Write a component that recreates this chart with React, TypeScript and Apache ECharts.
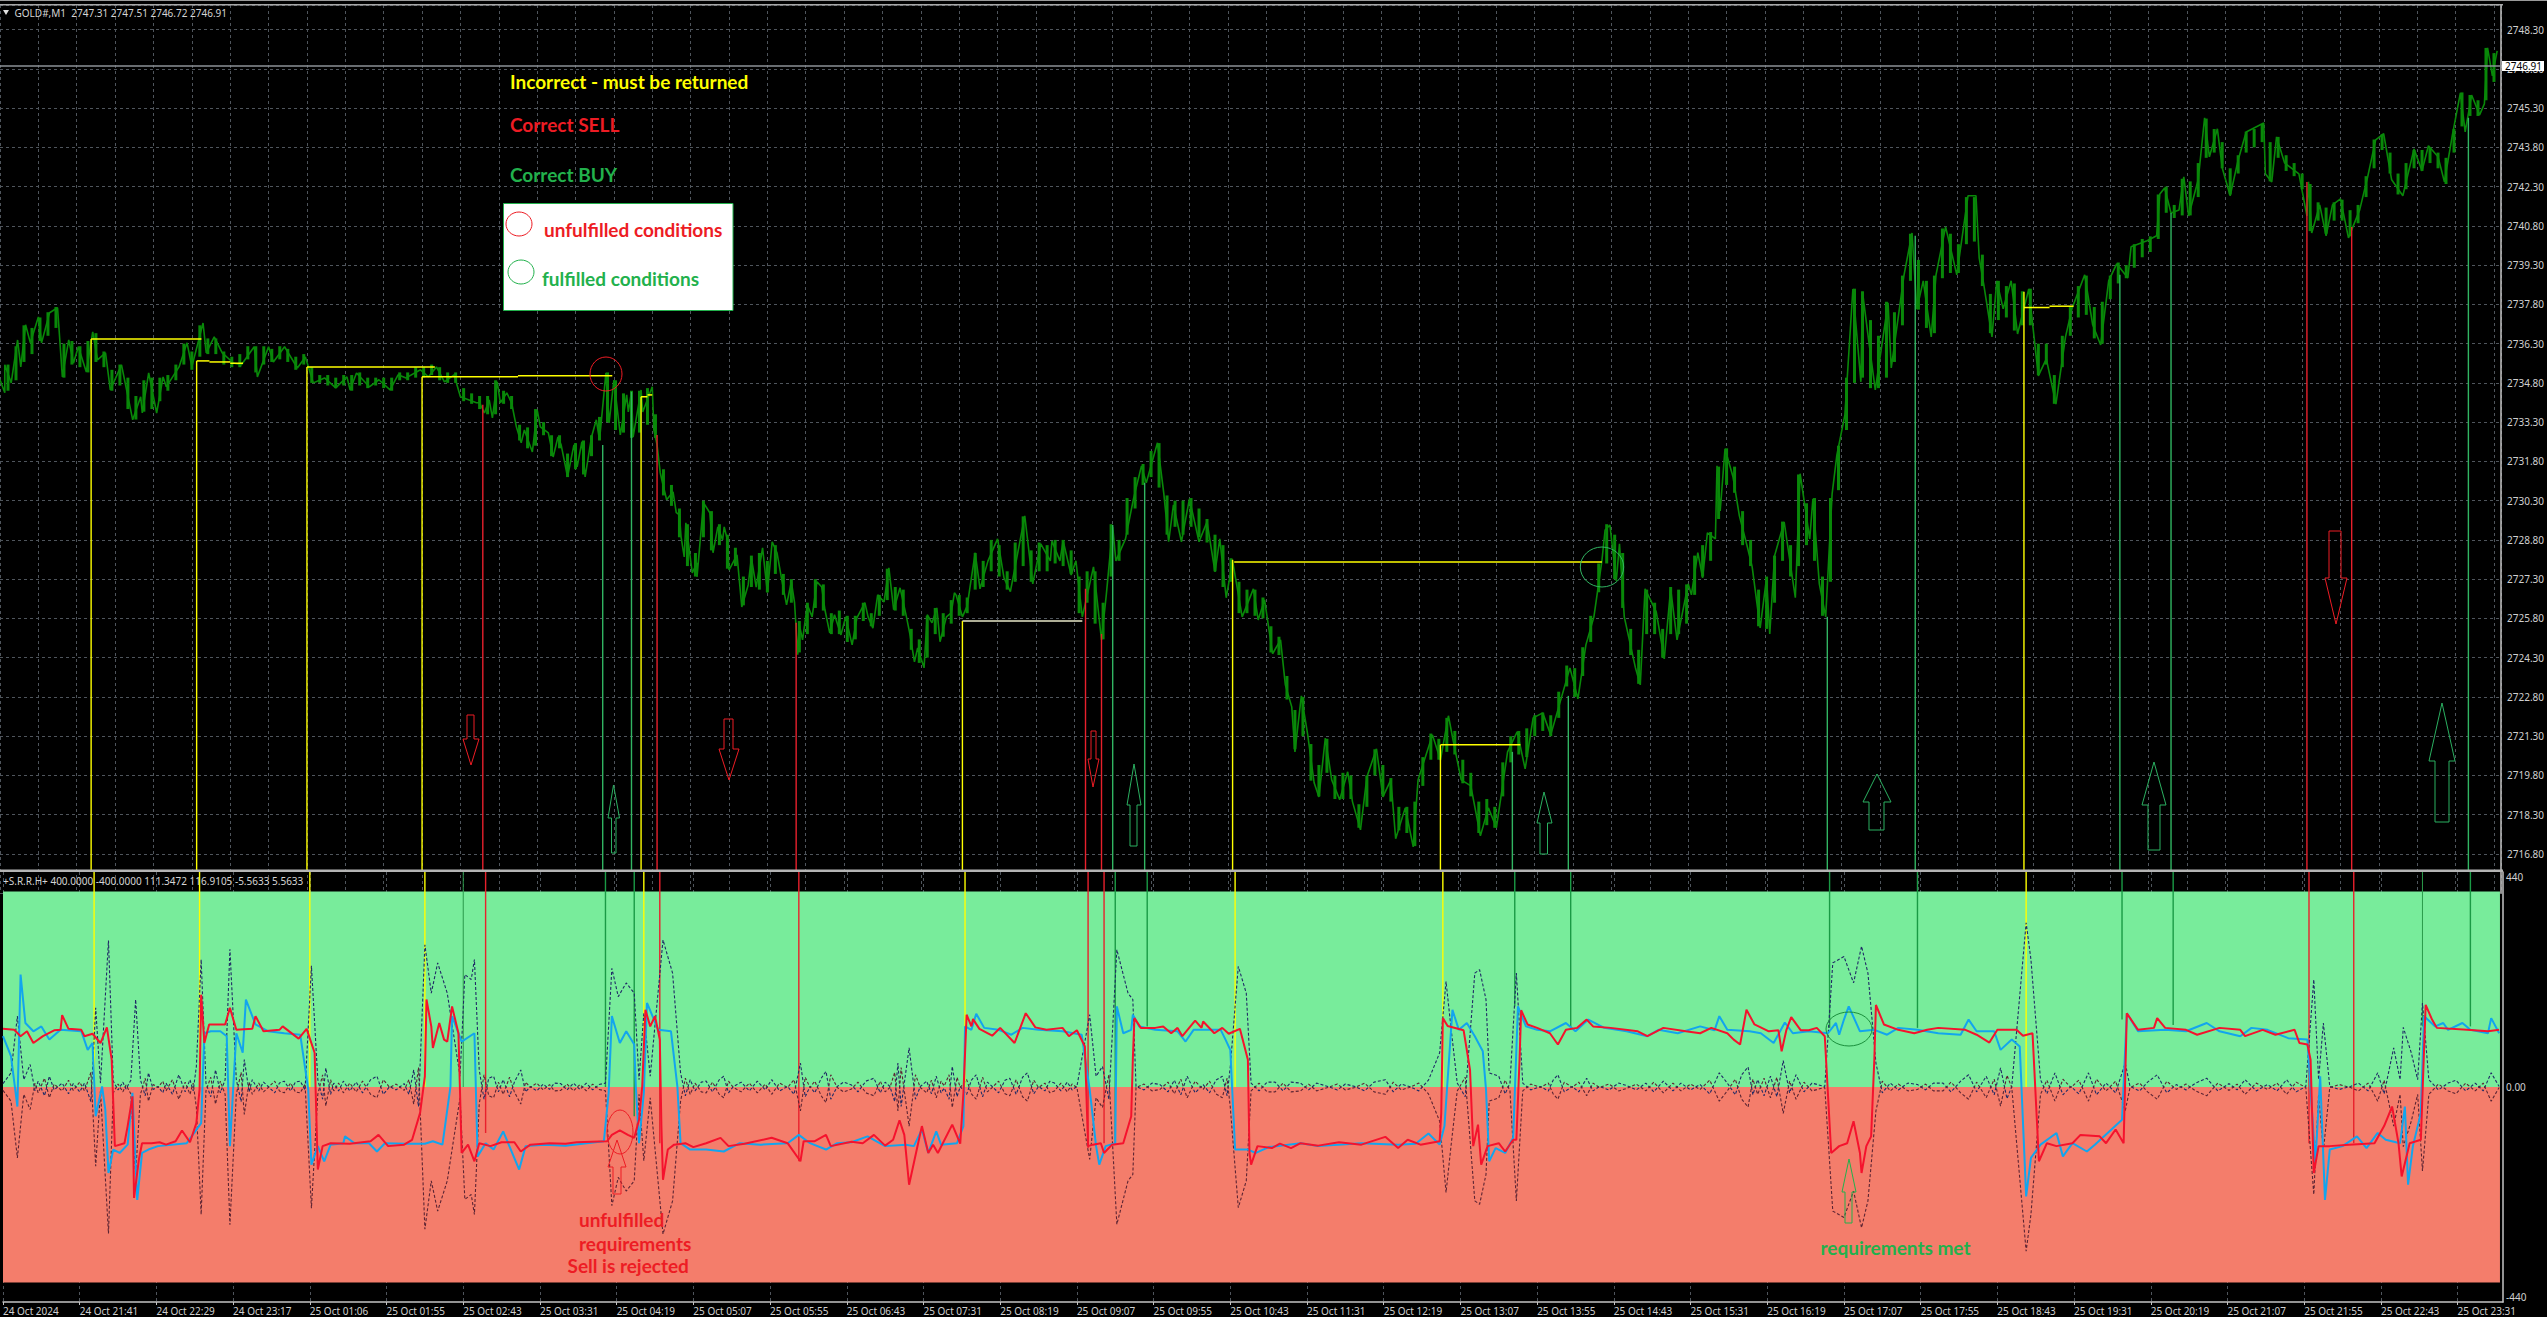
import React, { useEffect, useRef } from "react";
import * as echarts from "echarts";

const W = 2547;
const H = 1317;

const xTickLabels = ["24 Oct 2024","24 Oct 21:41","24 Oct 22:29","24 Oct 23:17","25 Oct 01:06","25 Oct 01:55","25 Oct 02:43","25 Oct 03:31","25 Oct 04:19","25 Oct 05:07","25 Oct 05:55","25 Oct 06:43","25 Oct 07:31","25 Oct 08:19","25 Oct 09:07","25 Oct 09:55","25 Oct 10:43","25 Oct 11:31","25 Oct 12:19","25 Oct 13:07","25 Oct 13:55","25 Oct 14:43","25 Oct 15:31","25 Oct 16:19","25 Oct 17:07","25 Oct 17:55","25 Oct 18:43","25 Oct 19:31","25 Oct 20:19","25 Oct 21:07","25 Oct 21:55","25 Oct 22:43","25 Oct 23:31"];

const lastPrice = 2746.91;

// GOLD#,M1 trace: [minute bar, price]
const goldA = [[0,2734.92],[3,2734.42],[3,2735.49],[7,2734.8],[11,2736.44],[13,2735.41],[16,2737.02],[19,2736.33],[24,2737.32],[26,2736.33],[31,2737.48],[36,2737.67],[39,2735.03],[43,2736.44],[46,2735.56],[49,2736.18],[54,2735.22],[58,2736.75],[61,2735.68],[66,2735.95],[69,2734.53],[76,2735.49],[83,2733.39],[88,2734.27],[89,2733.65],[93,2735.18],[98,2733.65],[102,2735.03],[104,2734.65],[112,2735.41],[117,2736.33],[120,2735.41],[127,2737.09],[129,2735.95],[134,2736.56],[139,2735.95],[146,2735.56],[151,2735.49],[159,2736.18],[161,2735.03],[168,2736.18],[171,2735.6],[178,2736.18],[186,2735.37],[191,2735.79],[196,2734.8],[203,2734.99],[210,2734.61],[217,2735.03],[219,2734.53],[223,2735.18],[231,2734.65],[237,2734.92],[244,2734.53],[249,2735.11],[254,2734.99],[263,2735.3],[268,2735.03],[273,2735.41],[278,2734.84],[284,2735.11],[288,2734.27],[298,2734.04],[300,2734.04],[303,2733.65],[306,2734.15],[308,2733.46],[311,2734.84],[313,2734.04],[317,2734.42],[320,2734.04],[323,2733.12],[326,2732.51],[328,2733],[333,2732.16],[336,2733.77],[338,2733.12],[343,2732.89],[346,2731.97],[349,2732.73],[351,2732.43],[355,2731.21],[359,2732.43],[361,2731.59],[364,2732.55],[366,2731.21],[370,2732.73],[373,2733.39],[375,2732.62],[378,2734.53],[379,2735.18],[381,2733.27],[384,2734.91],[388,2732.81],[392,2734.34],[393,2733.69],[395,2734.46],[396,2732.73],[401,2734.53],[402,2733.69],[408,2734.65],[409,2733],[411,2732.43],[413,2731.36],[414,2731.09],[417,2730.33],[421,2730.64],[423,2729.84],[425,2729.76],[426,2728.92],[428,2728.15],[429,2729.45],[433,2727.54],[436,2727.92],[436,2727.39],[439,2729.49],[440,2730.22],[444,2729.84],[446,2728.31],[449,2729.3],[452,2728.8],[453,2729.3],[455,2728.8],[456,2727.65],[461,2728.23],[464,2726.24],[468,2727.08],[470,2728.11],[473,2727],[477,2728.5],[480,2726.78],[483,2728.73],[486,2728.31],[489,2727.27],[492,2726.32],[495,2727.2],[497,2726.4],[499,2724.41],[500,2725.55],[502,2724.98],[505,2726.32],[508,2725.86],[511,2727.2],[514,2727],[516,2726.13],[519,2725.25],[522,2725.94],[526,2725.17],[529,2725.86],[533,2724.79]];
const goldB = [[536,2725.82],[541,2726.4],[543,2725.86],[546,2725.43],[549,2726.7],[553,2726.43],[556,2727.73],[559,2726.13],[563,2726.97],[567,2725.86],[569,2725.25],[572,2724.14],[574,2724.67],[578,2723.91],[580,2725.94],[583,2725.63],[586,2726.2],[588,2724.91],[592,2725.86],[595,2726.01],[597,2726.78],[598,2726.7],[602,2725.86],[605,2726.28],[610,2728.31],[613,2726.93],[618,2728],[624,2728.84],[628,2727.35],[632,2726.82],[641,2729.72],[646,2727.12],[651,2728.65],[657,2728],[658,2728.76],[663,2728],[665,2728.76],[670,2727.46],[673,2728],[677,2725.86],[684,2727.77],[689,2724.98],[692,2726.7],[696,2729.3],[698,2728],[704,2728.84],[709,2730.37],[714,2731.63],[717,2730.98],[724,2732.51],[728,2730.56],[731,2728.73],[734,2730.14],[739,2728.73],[744,2730.37],[750,2728.73],[755,2729.49],[760,2727.58],[763,2728.84],[767,2726.59],[771,2728],[777,2725.86],[784,2726.93],[787,2725.74],[791,2726.51],[796,2724.45],[801,2724.98],[804,2723.26],[808,2722.42],[810,2720.7],[814,2722.84],[818,2721.35],[822,2719.52],[825,2718.98],[829,2721.23],[833,2719.63],[838,2718.87],[843,2719.94],[846,2718.79],[851,2717.72],[855,2719.74],[861,2720.82],[865,2718.98],[870,2719.63],[873,2717.38],[879,2718.56],[884,2717.07],[887,2719.63],[896,2721.35],[901,2720.39],[906,2722.08],[909,2721.12],[914,2719.63],[920,2719.4],[926,2717.49],[931,2718.56],[936,2717.8],[943,2720.7],[949,2721.47],[954,2720.05],[959,2722],[965,2722.19],[970,2721.35],[982,2723.91],[987,2722.73],[992,2724.79],[997,2725.86],[1002,2728],[1004,2729.18],[1007,2729.37],[1011,2727.23],[1013,2728.65],[1016,2725.86],[1023,2723.91],[1026,2723.26],[1029,2726.93],[1036,2726.05],[1041,2724.25],[1045,2726.93],[1049,2724.98],[1056,2727.12],[1058,2726.7],[1062,2728.31]];
const goldC = [[1063,2728],[1065,2727.35],[1068,2729.07],[1073,2728.84],[1074,2731.63],[1076,2729.91],[1079,2732.28],[1084,2731.21],[1088,2729.72],[1093,2728.53],[1096,2727.77],[1101,2725.44],[1105,2727.35],[1107,2725.21],[1110,2728.19],[1116,2729.49],[1123,2726.59],[1126,2731.33],[1132,2728.84],[1134,2730.37],[1138,2727.12],[1142,2725.86],[1146,2730.56],[1149,2732.05],[1154,2733.58],[1159,2738.39],[1164,2734.84],[1165,2738.28],[1169,2736.37],[1173,2734.53],[1181,2737.86],[1183,2735.37],[1191,2738.93],[1196,2740.53],[1199,2737.62],[1203,2738.7],[1208,2736.56],[1211,2738.93],[1217,2740.76],[1224,2738.93],[1231,2741.95],[1236,2741.95],[1238,2739.58],[1241,2738.51],[1246,2736.56],[1249,2738.7],[1253,2737.63],[1258,2738.7],[1262,2736.67],[1269,2738.39],[1275,2735.07],[1280,2735.72],[1286,2733.99],[1292,2736.56],[1296,2737.63],[1304,2738.93],[1309,2737.02],[1314,2736.25],[1319,2738.7],[1324,2739.35],[1331,2738.81],[1333,2740],[1343,2740.23],[1349,2740.42],[1351,2742.02],[1354,2742.25],[1358,2741.29],[1363,2741.41],[1366,2742.67],[1369,2741.18],[1375,2742.56],[1379,2744.93],[1382,2743.44],[1387,2744.51],[1390,2743.02],[1395,2741.95],[1400,2743.32],[1405,2744.39],[1416,2744.73],[1417,2742.79],[1421,2742.48],[1424,2744.2],[1429,2743.21],[1438,2742.79],[1443,2741.18],[1444,2742.48],[1446,2740.53],[1451,2741.6],[1455,2740.42],[1459,2741.6],[1464,2741.83],[1469,2740.34],[1476,2741.41],[1481,2742.67],[1486,2744.09],[1491,2744.32],[1496,2742.56],[1503,2741.95],[1510,2743.74],[1515,2742.9],[1519,2743.86],[1525,2743.44],[1529,2742.48],[1534,2744.28],[1539,2745.88],[1542,2744.39],[1546,2745.8],[1551,2745.04],[1554,2745.46],[1556,2747.6],[1559,2746.53],[1562,2747.49]];

// bar ranges: [bar, low, high]
const goldRanges = [[5,2734.5,2735.5],[10,2734.9,2736.2],[15,2735.6,2737],[20,2735.9,2736.9],[25,2736.4,2737.3],[30,2736.6,2737.5],[35,2736.9,2737.7],[40,2735,2736.3],[45,2735.5,2736.4],[50,2735.4,2736.2],[55,2735.2,2736.4],[60,2735.6,2736.7],[65,2735.4,2736],[70,2734.5,2735.3],[75,2734.7,2735.5],[80,2733.8,2735],[85,2733.4,2734.3],[90,2733.7,2734.9],[95,2733.8,2735],[100,2734.1,2735],[105,2734.5,2735.1],[110,2734.9,2735.5],[115,2735.5,2736.3],[120,2735.3,2736],[125,2735.8,2737],[130,2735.9,2736.5],[135,2735.9,2736.5],[140,2735.5,2736],[145,2735.4,2735.8],[150,2735.4,2735.9],[155,2735.7,2736.2],[160,2735.2,2736.2],[165,2735.5,2736.2],[170,2735.6,2736.1],[175,2735.7,2736.2],[180,2735.6,2736.1],[185,2735.3,2735.8],[190,2735.5,2735.9],[195,2734.8,2735.4],[200,2734.8,2735.1],[205,2734.7,2735.1],[210,2734.6,2735],[215,2734.7,2735.1],[220,2734.5,2735.1],[225,2734.7,2735.2],[230,2734.6,2735],[235,2734.7,2735],[240,2734.6,2735],[245,2734.5,2735],[250,2734.9,2735.2],[255,2734.9,2735.2],[260,2735,2735.4],[265,2735,2735.4],[270,2735.1,2735.5],[275,2734.9,2735.4],[280,2734.8,2735.2],[285,2734.8,2735.2],[290,2734.1,2734.6],[295,2734,2734.4],[300,2733.8,2734.3],[305,2733.6,2734.3],[310,2733.6,2734.9],[315,2734,2734.5],[320,2733.8,2734.3],[325,2732.6,2733.2],[330,2732.3,2733.1],[335,2732.4,2733.8],[340,2732.8,2733.3],[345,2732,2732.8],[350,2732.3,2732.8],[355,2731.2,2732.1],[360,2731.5,2732.5],[365,2731.3,2732.6],[370,2732,2732.8],[375,2732.6,2733.5],[380,2733.3,2735.2],[385,2733,2734.9],[390,2732.9,2734.4],[395,2732.7,2734.5],[400,2732.9,2734.5],[405,2733.2,2734.6],[410,2732.7,2733.6],[415,2730.5,2731.5],[420,2730.1,2730.9],[425,2728.9,2730],[430,2727.8,2729.4],[435,2727.4,2728.3],[440,2728.9,2730.3],[445,2728.4,2729.9],[450,2728.6,2729.4],[455,2727.7,2729],[460,2727.8,2728.5],[465,2726.3,2727.4],[470,2727,2728.2],[475,2726.9,2728.3],[480,2726.8,2728],[485,2727.5,2728.6],[490,2726.7,2727.5],[495,2726.4,2727.3],[500,2724.5,2725.7],[505,2725.2,2726.4],[510,2726.2,2727.3],[515,2726.1,2727.1],[520,2725.2,2726],[525,2725.2,2726.1],[530,2724.9,2725.9],[535,2725,2725.9],[540,2725.7,2726.4],[545,2725.5,2726],[550,2725.9,2726.7],[555,2726.5,2727.7],[560,2726.1,2727],[565,2725.9,2726.9],[570,2724.6,2725.4],[575,2724.1,2725],[580,2724.3,2725.9],[585,2725.2,2726.2],[590,2725.1,2726],[595,2725.6,2726.5],[600,2725.9,2726.7],[605,2726,2726.6],[610,2726.9,2728.3],[615,2727,2728],[620,2727.6,2728.8],[625,2727.4,2728.6],[630,2726.9,2727.6],[635,2727.2,2728.7],[640,2727.8,2729.7],[645,2727.2,2728.4],[650,2727.6,2728.7],[655,2727.6,2728.6],[660,2727.9,2728.8],[665,2727.8,2728.8],[670,2727.5,2728.4],[675,2726,2727.4],[680,2726.4,2727.6],[685,2725.6,2727.6],[690,2725,2726.4],[695,2727.4,2729.4],[700,2728,2728.8],[705,2729,2730.4],[710,2730,2731.2],[715,2730.9,2731.7],[720,2731.2,2732.2],[725,2730.8,2732.5],[730,2729,2730.5],[735,2729.3,2730.3],[740,2729,2730.3],[745,2729.3,2730.4],[750,2728.9,2730],[755,2728.7,2729.6],[760,2727.6,2729],[765,2727,2728.6],[770,2727.2,2728.1],[775,2726,2727.2],[780,2726,2726.9],[785,2725.9,2726.9],[790,2725.8,2726.6],[795,2724.5,2725.5],[800,2724.4,2725.1],[805,2722.7,2723.6],[810,2720.8,2722.3],[815,2721.3,2722.8],[820,2719.6,2721],[825,2719,2720.2],[830,2719.9,2721.2],[835,2718.9,2719.8],[840,2718.9,2719.9],[845,2718.9,2719.8],[850,2717.8,2718.7],[855,2718.6,2719.8],[860,2719.8,2720.8],[865,2719,2720.2],[870,2718.8,2719.7],[875,2717.7,2718.6],[880,2717.6,2718.6],[885,2717.1,2718.8],[890,2719.4,2720.5],[895,2720.4,2721.4],[900,2720.4,2721.2],[905,2720.7,2722],[910,2720.6,2721.5],[915,2719.5,2720.4],[920,2719,2719.9],[925,2717.6,2718.8],[930,2717.9,2718.9],[935,2717.8,2718.6],[940,2719,2720.3],[945,2720.3,2721.3],[950,2720.6,2721.5],[955,2720.5,2721.6],[960,2721.3,2722.1],[965,2721.5,2722.2],[970,2721.3,2722.1],[975,2722,2723],[980,2723.2,2724],[985,2722.8,2723.9],[990,2723.6,2724.7],[995,2724.9,2725.9],[1000,2726.8,2727.9],[1005,2727.9,2729.4],[1010,2727.3,2729],[1015,2726.2,2728.3],[1020,2724.4,2725.4],[1025,2723.3,2724.6],[1030,2725.2,2726.9],[1035,2725.2,2726.4],[1040,2724.3,2725.4],[1045,2725.2,2727],[1050,2725.2,2726.9],[1055,2725.6,2727.1],[1060,2726.7,2728.2],[1065,2727.4,2728.6],[1070,2728,2729.1],[1075,2729.6,2731.6],[1080,2730.9,2732.3],[1085,2730.6,2731.6],[1090,2728.6,2729.9],[1095,2727.8,2728.8],[1100,2725.5,2726.9],[1105,2725.4,2727.4],[1110,2726.4,2728.2],[1115,2728,2729.5],[1120,2727.4,2728.6],[1125,2727.8,2731.3],[1130,2728.6,2730.2],[1135,2728,2730.4],[1140,2725.9,2727.4],[1145,2727.2,2730.4],[1150,2730.7,2732.4],[1155,2733,2735],[1160,2734.8,2738.4],[1165,2735,2738.3],[1170,2734.6,2737.2],[1175,2734.6,2736.6],[1180,2735,2737.9],[1185,2735.6,2737.5],[1190,2737,2738.9],[1195,2738.7,2740.5],[1200,2737.6,2739.5],[1205,2736.9,2738.7],[1210,2736.7,2738.9],[1215,2738.8,2740.7],[1220,2739,2740.5],[1225,2739,2740.1],[1230,2740.1,2741.9],[1235,2740.2,2741.9],[1240,2738.5,2739.7],[1245,2736.7,2738.2],[1250,2737.2,2738.7],[1255,2737.3,2738.5],[1260,2736.8,2738.6],[1265,2737,2738.3],[1270,2737,2738.4],[1275,2735.1,2736.3],[1280,2735.5,2736.3],[1285,2734,2735.1],[1290,2735.4,2736.6],[1295,2736.6,2737.7],[1300,2737.3,2738.5],[1305,2737.4,2738.9],[1310,2736.5,2737.7],[1315,2736.3,2737.9],[1320,2738,2738.9],[1325,2738.6,2739.4],[1330,2738.8,2739.3],[1335,2739.2,2740.1],[1340,2739.6,2740.3],[1345,2739.8,2740.4],[1350,2740.3,2742],[1355,2741.3,2742.3],[1360,2741.1,2741.6],[1365,2741.2,2742.6],[1370,2741.2,2742.5],[1375,2741.9,2743.2],[1380,2743.4,2744.9],[1385,2743.6,2744.5],[1390,2743,2744],[1395,2742,2743],[1400,2742.8,2743.5],[1405,2743.6,2744.4],[1410,2743.8,2744.5],[1415,2744,2744.7],[1420,2742.5,2744],[1425,2743.4,2744.2],[1430,2742.9,2743.5],[1435,2742.7,2743.2],[1440,2742.2,2742.8],[1445,2740.6,2742.4],[1450,2741,2741.7],[1455,2740.5,2741.5],[1460,2741,2741.7],[1465,2741,2741.8],[1470,2740.4,2741.4],[1475,2740.9,2741.6],[1480,2741.9,2742.7],[1485,2743,2744.1],[1490,2743.7,2744.3],[1495,2742.8,2743.6],[1500,2742,2742.8],[1505,2742.2,2743.2],[1510,2743,2743.7],[1515,2742.9,2743.7],[1520,2743.2,2743.8],[1525,2743,2743.6],[1530,2742.4,2743.4],[1535,2743.6,2744.5],[1540,2744.6,2745.9],[1545,2745,2745.8],[1550,2745,2745.6],[1555,2745.6,2747.6],[1560,2746.3,2747.4]];

// +S.R.R.H+ red line: [bar, value]
const srrhRed = [[0,119],[7,117],[11,104],[15,114],[19,90],[25,104],[32,116],[36,117],[37,147],[41,119],[49,117],[51,104],[56,109],[61,90],[65,122],[68,56],[70,-121],[76,-115],[78,-80],[81,-19],[82,-227],[85,-149],[87,-115],[93,-115],[98,-113],[102,-118],[108,-111],[112,-89],[117,-113],[121,-74],[123,-5],[124,189],[126,90],[129,128],[139,128],[142,162],[146,117],[156,119],[158,145],[163,114],[173,117],[175,124],[185,99],[190,119],[195,70],[197,-169],[200,-121],[205,-115],[217,-116],[230,-111],[235,-98],[241,-121],[251,-118],[256,-108],[261,-53],[264,22],[265,179],[268,124],[269,80],[273,131],[276,97],[278,93],[281,165],[285,110],[287,-135],[291,-118],[295,-152],[298,-115],[305,-121],[312,-113],[320,-113],[324,-132],[330,-118],[342,-115],[352,-116],[359,-113],[378,-111],[381,-98],[386,-89],[391,-98],[395,-104],[398,-67],[400,1],[402,158],[405,124],[408,145],[411,97],[412,-80],[413,-190],[416,-128],[420,-118],[427,-115],[432,-123],[440,-115],[449,-104],[454,-121],[464,-116],[481,-104],[491,-115],[499,-152],[501,-111],[508,-111],[515,-98],[518,-121],[531,-112],[538,-115],[545,-98],[552,-120],[557,-108],[561,-68],[564,-98],[567,-200],[570,-155],[575,-80],[579,-135],[582,-118],[585,-135],[594,-77],[599,-116],[601,-12],[603,148],[606,124],[607,139],[611,119],[619,105],[624,121],[633,90],[640,151],[646,122],[653,117],[663,121],[667,104],[672,116],[677,83],[679,-121],[682,-118],[687,-115],[689,-135],[694,-118],[701,-115],[706,-60],[707,56],[708,141],[712,121],[721,121],[726,124],[731,110],[735,121],[738,104],[746,136],[750,121],[751,134],[758,110],[763,121],[767,109],[774,119],[779,56],[780,-135],[781,-159],[785,-121],[794,-125],[799,-116],[806,-125],[812,-115],[823,-120],[836,-113],[850,-118],[865,-102],[873,-125],[879,-108],[887,-118],[899,-111],[900,-53],[901,141],[904,125],[914,116],[918,35],[920,-121],[923,-77],[925,-159],[929,-121],[936,-115],[940,-132],[945,-108],[947,-108],[949,56],[950,157],[954,128],[960,121],[968,110],[973,87],[978,117],[985,121],[991,138],[995,124],[1006,121],[1023,114],[1029,104],[1039,121],[1053,114],[1062,110],[1069,121],[1079,110],[1083,97],[1087,87],[1091,158],[1096,128],[1105,114],[1111,116],[1113,73],[1116,117],[1119,143],[1125,116],[1130,116],[1135,121],[1140,104],[1144,-135],[1149,-121],[1154,-115],[1158,-70],[1162,-135],[1163,-176],[1166,-121],[1169,-101],[1171,56],[1172,168],[1177,128],[1186,117],[1196,110],[1204,117],[1211,121],[1228,117],[1235,107],[1243,91],[1248,117],[1260,117],[1264,105],[1270,110],[1274,-152],[1279,-115],[1285,-121],[1295,-115],[1300,-98],[1312,-101],[1316,-115],[1322,-87],[1327,-115],[1329,151],[1336,117],[1346,121],[1348,141],[1353,121],[1366,117],[1373,107],[1387,121],[1400,117],[1403,104],[1414,117],[1422,107],[1434,117],[1437,90],[1442,87],[1444,56],[1446,-176],[1449,-121],[1456,-121],[1468,-118],[1484,-115],[1490,-80],[1495,-40],[1499,-115],[1501,-183],[1506,-115],[1513,-108],[1516,168],[1520,138],[1523,121],[1542,117],[1555,114],[1562,117]];

// +S.R.R.H+ blue line: [bar, value]
const srrhBlue = [[0,104],[5,63],[9,-40],[11,230],[14,131],[19,114],[24,124],[29,97],[36,117],[49,114],[53,76],[56,90],[58,-60],[62,1],[64,-46],[66,-176],[69,-128],[73,-135],[78,-118],[81,-12],[84,-231],[87,-135],[91,-128],[97,-121],[115,-115],[124,-74],[126,110],[130,114],[136,114],[140,104],[142,-121],[146,110],[150,70],[152,179],[158,128],[166,114],[176,110],[186,107],[191,-5],[193,-159],[197,-121],[201,-152],[205,-118],[213,-115],[214,-101],[220,-115],[229,-115],[234,-132],[239,-115],[252,-116],[264,-116],[269,-111],[275,-118],[280,1],[281,145],[287,93],[295,110],[297,-142],[302,-115],[307,-128],[313,-91],[323,-169],[327,-121],[339,-118],[352,-120],[376,-111],[379,-12],[381,145],[386,90],[390,114],[395,87],[396,1],[398,-115],[401,-12],[403,172],[410,117],[418,114],[422,1],[424,-115],[430,-128],[440,-128],[451,-132],[461,-115],[474,-118],[491,-115],[498,-98],[505,-115],[515,-128],[522,-115],[531,-113],[541,-101],[552,-121],[565,-118],[570,-121],[575,-87],[579,-135],[584,-91],[587,-118],[597,-115],[601,-80],[602,124],[606,117],[609,150],[614,121],[623,117],[631,107],[638,121],[648,117],[663,114],[675,107],[680,-5],[684,-121],[686,-159],[690,-121],[696,-115],[697,165],[701,110],[706,117],[707,148],[711,124],[721,117],[735,114],[740,93],[745,117],[762,117],[765,97],[768,76],[771,-128],[779,-128],[784,-135],[792,-123],[812,-115],[823,-121],[850,-115],[873,-118],[884,-116],[892,-95],[899,-118],[902,-80],[907,158],[911,117],[916,131],[921,104],[926,73],[928,-5],[930,-152],[934,-125],[940,-135],[945,-104],[948,165],[953,124],[960,117],[968,114],[978,131],[984,114],[992,138],[1002,121],[1016,114],[1029,104],[1036,117],[1048,110],[1062,124],[1071,116],[1074,145],[1079,117],[1093,114],[1100,110],[1108,90],[1115,132],[1120,110],[1130,114],[1142,110],[1147,131],[1149,107],[1152,138],[1155,165],[1162,114],[1171,117],[1179,107],[1186,121],[1198,117],[1211,110],[1225,107],[1230,138],[1235,114],[1246,114],[1250,76],[1257,97],[1262,83],[1266,-224],[1269,-145],[1275,-118],[1285,-94],[1289,-142],[1295,-115],[1304,-132],[1309,-118],[1326,-67],[1329,151],[1336,114],[1353,117],[1366,114],[1379,131],[1387,114],[1400,104],[1407,121],[1417,117],[1430,100],[1442,97],[1444,-5],[1447,-155],[1450,22],[1453,-231],[1456,-128],[1464,-121],[1473,-101],[1479,-125],[1486,-94],[1491,-108],[1500,-115],[1503,-40],[1505,-200],[1508,-121],[1513,-53],[1515,145],[1522,124],[1527,131],[1530,117],[1539,131],[1544,117],[1555,110],[1557,141],[1562,110]];

// dashed spread line (the title shows +5.5633 and -5.5633: its twin is its mirror image)
const srrhSpread = [[0,7],[5,29],[9,145],[13,15],[17,46],[20,-8],[22,12],[26,-18],[29,22],[32,-6],[37,8],[41,-14],[44,7],[48,-10],[51,8],[55,-30],[58,162],[61,8],[66,300],[69,12],[72,-6],[75,10],[77,-4],[80,14],[83,179],[86,15],[89,-18],[91,29],[94,-5],[97,1],[100,-12],[102,8],[106,-15],[110,25],[114,-10],[117,15],[119,-8],[121,42],[124,261],[127,8],[130,-20],[133,35],[136,-12],[139,15],[142,282],[146,15],[149,-30],[151,56],[154,-10],[156,15],[160,-8],[163,10],[166,1],[170,-12],[173,8],[176,12],[180,-8],[183,10],[186,12],[189,-6],[193,248],[197,15],[200,-25],[202,39],[205,-15],[207,8],[210,-8],[213,12],[217,-8],[221,10],[225,-12],[230,15],[234,22],[238,-15],[242,1],[246,-6],[251,7],[254,-15],[257,35],[260,-40],[264,291],[268,192],[272,254],[278,192],[286,22],[289,230],[293,220],[295,261],[298,35],[301,-25],[304,18],[307,22],[310,-10],[313,15],[317,-20],[320,10],[324,35],[327,-10],[330,1],[334,-8],[338,6],[342,-5],[345,8],[349,7],[353,-6],[357,8],[361,-5],[365,8],[369,-6],[373,5],[377,8],[381,243],[385,185],[390,213],[395,192],[398,15],[401,151],[405,22],[413,301],[419,233],[424,29],[427,-18],[430,15],[433,-8],[437,10],[440,12],[444,-10],[448,14],[451,22],[454,-12],[457,1],[462,10],[467,-8],[472,12],[477,-6],[481,15],[486,-8],[491,1],[495,-15],[499,49],[502,-20],[505,1],[508,-12],[512,18],[515,32],[518,-25],[522,1],[526,10],[531,4],[535,-10],[540,12],[545,18],[549,-12],[552,10],[555,1],[558,-30],[560,49],[562,-40],[564,8],[567,80],[571,-25],[574,1],[578,12],[581,-14],[584,22],[587,-12],[589,-2],[592,-25],[594,42],[597,-20],[599,1],[603,-15],[606,14],[609,25],[613,-20],[616,10],[619,1],[623,-12],[627,14],[630,18],[634,-15],[638,20],[641,29],[645,-14],[648,1],[652,-8],[655,12],[658,8],[662,-8],[666,10],[669,-6],[672,1],[680,148],[684,22],[688,42],[692,-25],[697,281],[704,192],[707,179],[709,1],[714,-6],[719,8],[724,5],[729,-10],[733,14],[737,-16],[741,22],[746,-12],[751,5],[755,-12],[759,14],[763,22],[766,-18],[768,42],[773,247],[778,192],[781,8],[786,-8],[791,10],[796,10],[801,-8],[806,10],[812,8],[817,-6],[822,8],[829,1],[835,-6],[840,6],[846,1],[852,-8],[858,10],[865,15],[870,-10],[875,6],[880,1],[886,-8],[892,14],[899,70],[903,216],[906,124],[910,8],[915,-20],[921,233],[924,240],[928,179],[930,29],[936,22],[940,-14],[943,8],[947,233],[951,8],[956,-6],[962,1],[967,-8],[970,14],[973,25],[977,-10],[982,1],[986,-10],[991,18],[995,-8],[999,1],[1005,-6],[1011,8],[1016,3],[1022,-6],[1028,8],[1033,-10],[1039,12],[1045,-8],[1050,8],[1056,-6],[1062,5],[1068,-14],[1074,29],[1079,8],[1084,-16],[1088,25],[1092,41],[1095,-16],[1098,15],[1102,-18],[1106,22],[1110,-20],[1114,54],[1118,-12],[1122,25],[1127,-10],[1132,8],[1140,1],[1145,254],[1152,267],[1158,213],[1163,288],[1167,233],[1172,49],[1176,-12],[1181,8],[1186,-6],[1192,8],[1198,5],[1203,-6],[1208,8],[1214,8],[1219,-10],[1225,12],[1230,25],[1235,-10],[1241,22],[1246,-16],[1250,39],[1254,-24],[1257,1],[1266,336],[1269,261],[1275,15],[1279,-14],[1284,29],[1289,-16],[1294,1],[1299,-14],[1305,29],[1310,-16],[1316,8],[1322,-12],[1328,49],[1331,1],[1337,-8],[1342,10],[1348,25],[1354,-12],[1360,5],[1366,-6],[1372,8],[1379,18],[1386,-8],[1393,7],[1398,-6],[1403,15],[1410,-8],[1417,5],[1423,-8],[1429,15],[1435,-10],[1441,1],[1446,220],[1449,15],[1452,131],[1456,1],[1462,-5],[1469,1],[1474,8],[1480,-8],[1486,29],[1490,-14],[1496,80],[1500,15],[1502,122],[1507,70],[1511,15],[1514,172],[1518,15],[1524,-6],[1530,8],[1535,14],[1541,-8],[1547,8],[1552,-8],[1557,29],[1562,1]];

// trade levels: [start bar, end bar, price]
const tradeLevels = [[57,126,2736.48],[123,131,2735.64],[131,144,2735.6],[144,152,2735.55],[192,272,2735.41],[264,324,2735.03],[324,383,2735.07],[401,405,2734.27],[405,408,2734.34],[772,1002,2727.96],[901,951,2720.97],[1266,1282,2737.68],[1282,1297,2737.73]];
const whiteLevels = [[602,677,2725.7]];

// vertical signals: [bar, price at top, indicator value at the end, kind]
const YELLOW = 0, GREEN = 1, RED = 2;
const signals = [
  [57,2736.48,0,YELLOW],[123,2735.64,0,YELLOW],[192,2735.41,0,YELLOW],[264,2735.03,0,YELLOW],[401,2734.27,0,YELLOW],[602,2725.7,0,YELLOW],[771,2728.04,0,YELLOW],[901,2720.97,0,YELLOW],[1266,2738.28,0,YELLOW],
  [377,2732.43,0,GREEN],[395,2734.46,-60,GREEN],[696,2729.37,-115,GREEN],[716,2730.98,124,GREEN],[946,2720.7,165,GREEN],[981,2722.84,117,GREEN],[1143,2725.86,121,GREEN],[1198,2740.42,121,GREEN],[1326,2738.93,138,GREEN],[1358,2741.29,127,GREEN],[1544,2744.93,124,GREEN],
  [302,2733.96,-94,RED],[411,2732.81,-115,RED],[498,2725.63,-152,RED],[679,2726.93,-125,RED],[689,2725.21,-115,RED],[1443,2742.48,-115,RED],[1471,2740.76,-115,RED],
];
const indicatorOnlySignals = [[288,0,GREEN],[1514,124,GREEN]];

const priceFloor = 2716.15;
const barsOnChart = 1564.4;

const annGreen = "#22b14c";
const annRed = "#ed1c24";
const signalColors = ["#ffff00", "#31b562", "#e8202c"];
const subSignalColors = ["#ffff00", "#1a9a45", "#e8202c"];
const annFont = "Lato";

function arrow(dir: "up" | "down", cx: number, headL: number, headR: number, shaftL: number, shaftR: number, tip: number, shoulder: number, tail: number, color: string) {
  return {
    type: "polygon", z: 50, silent: true,
    shape: { points: [[cx, tip], [headR, shoulder], [shaftR, shoulder], [shaftR, tail], [shaftL, tail], [shaftL, shoulder], [headL, shoulder]] },
    style: { fill: "transparent", stroke: color, lineWidth: 1 },
  };
}
const ell = (cx: number, cy: number, rx: number, ry: number, color: string) => ({
  type: "ellipse", z: 50, silent: true, shape: { cx, cy, rx, ry }, style: { fill: "transparent", stroke: color, lineWidth: 1 },
});
const label = (text: string, x: number, y: number, color: string, size = 19, z = 52) => ({
  type: "text", z, silent: true, x, y,
  style: { text, fill: color, fontFamily: annFont, fontSize: size, fontWeight: "bold", verticalAlign: "middle", align: "left" },
});
const hudText = (text: string, x: number, y: number) => ({
  type: "text", z: 52, silent: true, x, y,
  style: { text, fill: "#d4d4d4", fontFamily: "Noto Sans", fontSize: 10, verticalAlign: "middle", align: "left" },
});

const annotations: any[] = [
  { type: "rect", z: 40, silent: true, shape: { x: 0, y: 869.5, width: W - 44, height: 2.5 }, style: { fill: "#b4b4b4" } },
  { type: "rect", z: 40, silent: true, shape: { x: 0, y: 4, width: W - 44, height: 1.6 }, style: { fill: "#a8a8a8" } },
  { type: "rect", z: 40, silent: true, shape: { x: 0, y: 0, width: W, height: 1 }, style: { fill: "#9a9a9a" } },
  { type: "polygon", z: 52, silent: true, shape: { points: [[3, 10], [9, 10], [6, 15]] }, style: { fill: "#e0e0e0" } },
  hudText("GOLD#,M1  2747.31 2747.51 2746.72 2746.91", 14.5, 13),
  hudText("+S.R.R.H+ 400.0000 -400.0000 111.3472 116.9105 -5.5633 5.5633", 3, 881),
  label("Incorrect - must be returned", 510, 81, "#ffff00"),
  label("Correct SELL", 510, 124, annRed),
  label("Correct BUY", 510, 174, annGreen),
  { type: "rect", z: 49, silent: true, shape: { x: 503.5, y: 203.5, width: 229.5, height: 107 }, style: { fill: "#ffffff", stroke: annGreen, lineWidth: 1 } },
  ell(519, 224, 13, 12, annRed),
  ell(521, 272, 13, 12, annGreen),
  label("unfulfilled conditions", 544, 229, annRed),
  label("fulfilled conditions", 542, 278, annGreen),
  ell(606, 374, 16, 17, annRed),
  ell(1602, 567, 21.7, 20, "#31b562"),
  arrow("down", 471, 463, 479, 467, 474, 765, 739, 715, annRed),
  arrow("down", 729, 719, 739, 724, 733, 780, 749, 719, annRed),
  arrow("up", 613.5, 608, 619.5, 611.5, 616, 785, 818, 853, "#2bb061"),
  arrow("down", 1093, 1088, 1099, 1091, 1096, 787, 759, 731, annRed),
  arrow("up", 1134, 1127, 1141, 1130, 1137, 764, 805, 846, "#2bb061"),
  arrow("up", 1544, 1537, 1552, 1540, 1547.5, 792, 823, 854, "#2bb061"),
  arrow("up", 1877, 1863, 1891, 1869, 1884, 774, 802, 830, "#2bb061"),
  arrow("up", 2154, 2142, 2166, 2148, 2160, 762, 805, 850, "#2bb061"),
  arrow("down", 2336, 2325, 2347, 2329, 2341, 624, 578, 531, annRed),
  arrow("up", 2442, 2429, 2455, 2435, 2449, 703, 761, 822, "#2bb061"),
  arrow("up", 617, 608, 626, 613, 621, 1140, 1167, 1194, annRed),
  arrow("up", 1849, 1842, 1856, 1845, 1852, 1159, 1192, 1223, annGreen),
  ell(620, 1132, 13, 22, annRed),
  ell(1849, 1029, 23, 17, "#1a8f3c"),
  label("unfulfilled", 579, 1219, annRed),
  label("requirements", 579, 1243, annRed),
  label("Sell is rejected", 567.5, 1265, annRed),
  label("requirements met", 1820.5, 1247, annGreen),
];

const levelSeries = (levels: number[][], color: string) => ({
  type: "custom", xAxisIndex: 0, yAxisIndex: 0, z: 4, silent: true,
  data: levels,
  encode: { x: [0, 1], y: 2 },
  renderItem: (_: any, api: any) => {
    const a = api.coord([api.value(0), api.value(2)]);
    const b = api.coord([api.value(1), api.value(2)]);
    return { type: "line", shape: { x1: a[0], y1: a[1], x2: b[0], y2: b[1] }, style: { stroke: color, lineWidth: 1.5 } };
  },
});

export default function App() {
  const ref = useRef<HTMLDivElement>(null);
  useEffect(() => {
    document.body.style.margin = "0";
    document.body.style.background = "#000";
    const chart = echarts.init(ref.current!, undefined, { renderer: "svg" });
    const gridLine = { show: true, lineStyle: { color: "#4f555c", type: [3, 3] as any, width: 1 } };
    const option: any = {
      animation: false,
      backgroundColor: "#000000",
      legend: { show: false },
      grid: [
        { left: 0, right: 44, top: 5, height: 888.2 },
        { left: 0, right: 44, top: 872, height: 430 },
      ],
      xAxis: [
        { type: "value", gridIndex: 0, min: 0, max: barsOnChart, interval: 24, axisLabel: { show: false }, axisLine: { show: false }, axisTick: { show: false }, splitLine: gridLine },
        {
          type: "value", gridIndex: 1, min: 0, max: barsOnChart, interval: 24,
          axisLine: { show: true, onZero: false, lineStyle: { color: "#c4c4c4", width: 1.5 } },
          axisTick: { show: true, length: 3, lineStyle: { color: "#c4c4c4" }, customValues: xTickLabels.map((_, i) => i * 48) },
          axisLabel: {
            color: "#d0d0d0", fontFamily: "Noto Sans", fontSize: 10, align: "left", margin: 4, showMaxLabel: false,
            formatter: (v: number) => { const i = v / 48; return Number.isInteger(i) ? (xTickLabels[i] ?? "") : ""; },
          },
          splitLine: gridLine,
        },
      ],
      yAxis: [
        {
          type: "value", gridIndex: 0, position: "right", min: 2715.3, max: 2749.24, interval: 1.5,
          axisLine: { show: true, onZero: false, lineStyle: { color: "#c4c4c4", width: 1.5 } }, axisTick: { show: false },
          axisLabel: { color: "#d0d0d0", fontFamily: "Noto Sans", fontSize: 10, margin: 6, showMinLabel: false, showMaxLabel: false, formatter: (v: number) => v.toFixed(2) },
          splitLine: gridLine,
        },
        {
          type: "value", gridIndex: 1, position: "right", min: -440, max: 440, interval: 440,
          axisLine: { show: true, onZero: false, lineStyle: { color: "#c4c4c4", width: 1.5 } }, axisTick: { show: false },
          axisLabel: { color: "#d0d0d0", fontFamily: "Noto Sans", fontSize: 10, margin: 3, verticalAlignMaxLabel: "top", verticalAlignMinLabel: "bottom", formatter: (v: number) => (v === 0 ? "0.00" : String(v)) },
          splitLine: { show: false },
        },
      ],
      series: [
        {
          type: "custom", name: "GOLD#,M1 ranges", xAxisIndex: 0, yAxisIndex: 0, z: 3, silent: true, data: goldRanges, encode: { x: 0, y: [1, 2] },
          renderItem: (_: any, api: any) => {
            const a = api.coord([api.value(0), api.value(1)]);
            const b = api.coord([api.value(0), api.value(2)]);
            return { type: "line", shape: { x1: a[0], y1: a[1], x2: b[0], y2: b[1] }, style: { stroke: "#098809", lineWidth: 3 } };
          },
        },
        {
          type: "line", name: "GOLD#,M1", xAxisIndex: 0, yAxisIndex: 0, z: 3, silent: true, symbol: "none",
          data: [...goldA, ...goldB, ...goldC],
          lineStyle: { color: "#098809", width: 1.6 },
          markLine: {
            silent: true, symbol: "none", animation: false,
            lineStyle: { color: "#8d9297", type: "solid", width: 1.5 },
            label: { show: true, position: "end", distance: 1, formatter: lastPrice.toFixed(2), backgroundColor: "#ffffff", color: "#000000", fontFamily: "Noto Sans", fontSize: 10, padding: [0, 2, 0, 3] },
            data: [{ yAxis: lastPrice }],
          },
        },
        levelSeries(tradeLevels, "#ffff00"),
        levelSeries(whiteLevels, "#e8e8c8"),
        {
          type: "custom", xAxisIndex: 0, yAxisIndex: 0, z: 4, silent: true, data: signals, encode: { x: 0, y: 1 }, clip: false,
          renderItem: (_: any, api: any) => {
            const a = api.coord([api.value(0), api.value(1)]);
            const b = api.coord([api.value(0), priceFloor]);
            return { type: "line", shape: { x1: a[0], y1: a[1], x2: b[0], y2: b[1] }, style: { stroke: signalColors[api.value(3)], lineWidth: 1.4 } };
          },
        },
        {
          type: "line", xAxisIndex: 1, yAxisIndex: 1, z: 1, silent: true, symbol: "none", data: [[0, 0]], lineStyle: { width: 0 },
          markArea: {
            silent: true,
            data: [
              [{ xAxis: 0, yAxis: 0, itemStyle: { color: "#78ec9b", opacity: 1 } }, { xAxis: 1562.5, yAxis: 400 }],
              [{ xAxis: 0, yAxis: -400, itemStyle: { color: "#f47d6b", opacity: 1 } }, { xAxis: 1562.5, yAxis: 0 }],
            ],
          },
        },
        {
          type: "custom", xAxisIndex: 1, yAxisIndex: 1, z: 3, silent: true, data: signals.map((s) => [s[0], s[2], s[3]]), encode: { x: 0, y: 1 },
          renderItem: (_: any, api: any) => {
            const a = api.coord([api.value(0), 440]);
            const b = api.coord([api.value(0), api.value(1)]);
            return { type: "line", shape: { x1: a[0], y1: a[1], x2: b[0], y2: b[1] }, style: { stroke: subSignalColors[api.value(2)], lineWidth: 1.4 } };
          },
        },
        {
          type: "custom", xAxisIndex: 1, yAxisIndex: 1, z: 3, silent: true, data: indicatorOnlySignals, encode: { x: 0, y: 1 },
          renderItem: (_: any, api: any) => {
            const a = api.coord([api.value(0), 440]);
            const b = api.coord([api.value(0), api.value(1)]);
            return { type: "line", shape: { x1: a[0], y1: a[1], x2: b[0], y2: b[1] }, style: { stroke: "#2a9a4a", lineWidth: 1 } };
          },
        },
        { type: "line", name: "spread", xAxisIndex: 1, yAxisIndex: 1, z: 4, silent: true, symbol: "none", data: srrhSpread, lineStyle: { color: "#1f2a66", width: 1.1, type: [3, 2] } },
        { type: "line", name: "spread mirror", xAxisIndex: 1, yAxisIndex: 1, z: 4, silent: true, symbol: "none", data: srrhSpread.map(([b, v]) => [b, -v]), lineStyle: { color: "#5c2433", width: 1.1, type: [3, 2] } },
        { type: "line", name: "blue", xAxisIndex: 1, yAxisIndex: 1, z: 5, silent: true, symbol: "none", data: srrhBlue, lineStyle: { color: "#12a5ee", width: 2 } },
        { type: "line", name: "red", xAxisIndex: 1, yAxisIndex: 1, z: 6, silent: true, symbol: "none", data: srrhRed, lineStyle: { color: "#f5122d", width: 2 } },
      ],
      graphic: { elements: annotations },
    };
    chart.setOption(option);
    return () => chart.dispose();
  }, []);
  return <div ref={ref} style={{ width: W, height: H, background: "#000" }} />;
}
